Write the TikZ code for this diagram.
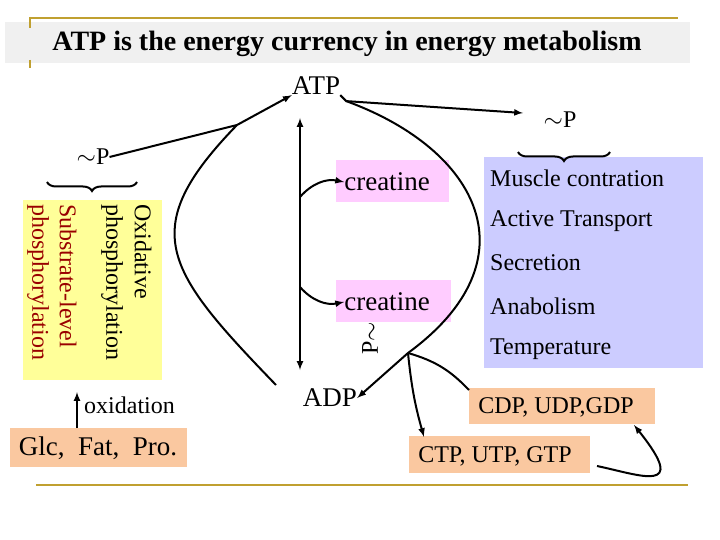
\documentclass[tikz,border=0pt]{standalone}
\usepackage{fontspec}
\setmainfont{Liberation Serif}
\usetikzlibrary{arrows,decorations.pathreplacing}
\definecolor{gold}{HTML}{C0A030}
\definecolor{banner}{HTML}{F0F0F0}
\definecolor{yellowbox}{HTML}{FFFF99}
\definecolor{pinkbox}{HTML}{FFCCFF}
\definecolor{bluebox}{HTML}{CCCCFF}
\definecolor{orangebox}{HTML}{FAC8A0}
\definecolor{darkred}{HTML}{990000}
\tikzset{
  lbl/.style={inner sep=0pt,font=\fontsize{24}{26}\selectfont},
  big/.style={inner sep=0pt,font=\fontsize{27}{29}\selectfont},
  arr/.style={line width=2pt,-latex},
  brc/.style={line width=2pt,decorate,decoration={brace,mirror,amplitude=9pt}}
}
\begin{document}
\begin{tikzpicture}[x=1pt,y=-1pt]
  \useasboundingbox (0,0) rectangle (720,540);
  % frame lines
  \fill [banner] (5,22) rectangle (690,63);
  \draw [gold,line width=2.5pt] (30,18) -- (678,18);
  \draw [gold,line width=2.5pt] (30,17) -- (30,28);
  \draw [gold,line width=2.5pt] (30,60) -- (30,68);
  \draw [gold,line width=2.5pt] (36,485) -- (688,485);
  \node (title) at (347,44) {\fontsize{28}{30}\selectfont\bfseries ATP is the energy currency in energy metabolism};
  % boxes
  \fill [yellowbox] (23,200) rectangle (162,380);
  \fill [orangebox] (10,428) rectangle (187,467);
  \fill [pinkbox] (336,160) rectangle (449,202);
  \fill [pinkbox] (336,280) rectangle (451,322);
  \fill [bluebox] (484,157) rectangle (703,368);
  \fill [orangebox] (469,388) rectangle (655,424);
  \fill [orangebox] (409,436) rectangle (590,473);
  % texts
  \node [big] (atp) at (316,86) {ATP};
  \node [big] (adp) at (330,398) {ADP};
  \node [lbl] (pl) at (93,157) {$\sim$P};
  \node [lbl] (pr) at (560,120) {$\sim$P};
  \node [big] (glc) at (98,448) {Glc,\ \ Fat,\ \ Pro.};
  \node [lbl,anchor=west] (oxid) at (84,405) {oxidation};
  \node [lbl,rotate=-90,anchor=west] (ox1) at (143,204) {Oxidative};
  \node [lbl,rotate=-90,anchor=west] (ox2) at (112,204) {phosphorylation};
  \node [lbl,rotate=-90,anchor=west,text=darkred] (sub1) at (68,204) {Substrate-level};
  \node [lbl,rotate=-90,anchor=west,text=darkred] (sub2) at (38,204) {phosphorylation};
  \node [big] (cre1) at (387,182) {creatine};
  \node [big] (cre2) at (387,302) {creatine};
  \node [lbl,rotate=90] (pt) at (370,338) {P$\sim$};
  \node [lbl,anchor=west] (use1) at (490,178) {Muscle contration};
  \node [lbl,anchor=west] (use2) at (490,221) {Active Transport};
  \node [lbl,anchor=west] (use3) at (490,263) {Secretion};
  \node [lbl,anchor=west] (use4) at (490,306) {Anabolism};
  \node [lbl,anchor=west] (use5) at (490,349) {Temperature};
  \node [lbl] (cdp) at (556,407) {CDP, UDP,GDP};
  \node [lbl] (ctp) at (495,456) {CTP, UTP, GTP};
  % braces
  \draw [brc] (47,182) -- (137,182);
  \draw [brc] (518,152) -- (610,152);
  % arrows
  \coordinate (lb) at (276,385);
  \coordinate (lm) at (237,125);
  \coordinate (gt) at (77,428);
  \draw [arr] (lb) .. controls (165,270) and (135,230) .. (lm) -- (atp.south west);
  \draw [line width=2pt] (pl.east) -- (lm);
  \draw [arr] (atp.south east) -- ++(6,6) coordinate (ar) -- (523,113);
  \coordinate (rm) at (408,353);
  \draw [arr] (ar) .. controls (480,150) and (535,260) .. (rm) -- (adp.east);
  \draw [arr,latex-latex] (300,118) -- (300,370);
  \draw [arr] (300,197) to [bend left=30] (cre1.west);
  \draw [arr] (300,287) to [bend right=30] (cre2.west);
  \draw [arr] (rm) to [bend right=5] (424,437);
  \draw [line width=2pt] (rm) to [bend left=15] (469,390);
  \draw [arr] (597,466) .. controls (640,475) and (690,495) .. (634,425);
  \draw [arr] (gt) -- (77,392);
\end{tikzpicture}
\end{document}
